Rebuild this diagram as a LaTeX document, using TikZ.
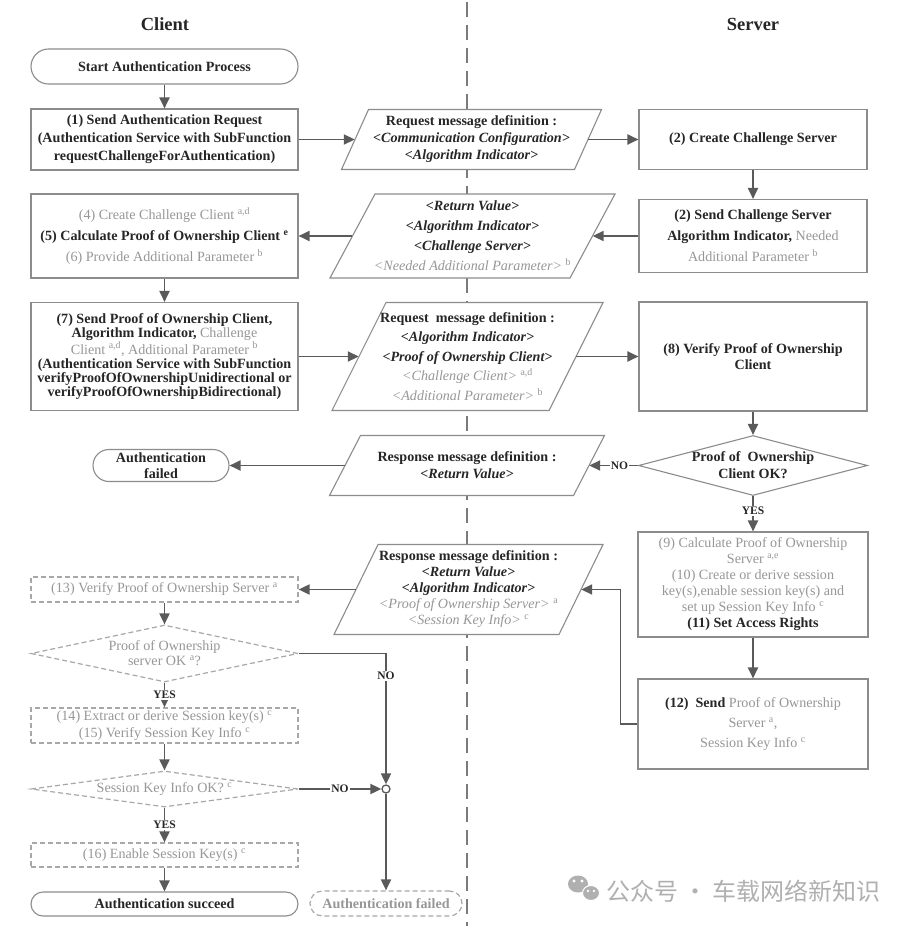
\documentclass[tikz,border=0pt]{standalone}
\usepackage{fontspec}
\setmainfont{Liberation Serif}
\newfontfamily\cjkfont{Noto Sans CJK SC}
\usetikzlibrary{arrows.meta,shapes.geometric}
\definecolor{txtk}{HTML}{262626}
\definecolor{txtg}{HTML}{979797}
\definecolor{edgec}{HTML}{8C8C8C}
\definecolor{dashc}{HTML}{A8A8A8}
\definecolor{arrc}{HTML}{5A5A5A}
\definecolor{midc}{HTML}{7A7A7A}
\definecolor{wmc}{HTML}{B0B0B0}
\newcommand\gt[1]{{\color{txtg}\mdseries #1}}
\newcommand\sps[1]{\textsuperscript{#1}}
\newcommand\fsz[1]{\fontsize{14.1}{#1}\selectfont\bfseries}
\newcommand\fsr[1]{\fontsize{14.1}{#1}\selectfont\mdseries}
% name, cx, cy, w, h, slant, text, baselineskip
\newcommand\mkpara[8]{%
  \filldraw[parashape] (#2-#4/2+#6/2, #3-#5/2) -- (#2+#4/2+#6/2, #3-#5/2)
     -- (#2+#4/2-#6/2, #3+#5/2) -- (#2-#4/2-#6/2, #3+#5/2) -- cycle;
  \node[msgtext, minimum width=#4pt, minimum height=#5pt, font=\fsz{#8}] (#1) at (#2,#3) {#7};
}
\tikzset{
  base/.style={align=center, text=txtk, inner sep=0pt},
  procbox/.style={base, rectangle, draw=edgec, line width=1.1pt, fill=white},
  optbox/.style={base, rectangle, draw=dashc, line width=1.2pt, dash pattern=on 5pt off 3pt, fill=white, text=txtg},
  msgtext/.style={base, rectangle},
  parashape/.style={draw=edgec, line width=1.1pt, fill=white},
  decis/.style={base, diamond, draw=edgec, line width=1.1pt, fill=white},
  optdecis/.style={decis, draw=dashc, line width=1.2pt, dash pattern=on 5pt off 3pt},
  arr/.style={draw=arrc, line width=1.9pt, -{Triangle[length=11pt,width=10pt]}},
  lbl/.style={font=\fontsize{11.5}{12}\selectfont\bfseries, fill=white, inner sep=1pt, text=txtk},
  midline/.style={draw=midc, line width=1.4pt, dash pattern=on 15pt off 8pt},
  ttl/.style={font=\fontsize{18.5}{20}\selectfont\bfseries, text=txtk, inner sep=0pt},
  joint/.style={circle, draw=arrc, line width=1.3pt, fill=white, minimum size=8pt, inner sep=0pt}
}
\begin{document}
\begin{tikzpicture}[x=1pt,y=-1pt]
\useasboundingbox (0,0) rectangle (909,928);
\fill[white] (0,0) rectangle (909,928);
\draw[midline] (467,2) -- (467,926);

\node[ttl] (tc) at (165,24) {Client};
\node[ttl] (ts) at (753,24) {Server};

% ---- client column
\node[procbox, minimum width=267pt, minimum height=35pt, rounded corners=17.5pt, font=\fsz{17}] (start) at (164.5,66.5) {Start Authentication Process};
\node[procbox, minimum width=267pt, minimum height=61pt, font=\fsz{18}] (b1) at (164.5,139.5)
  {(1) Send Authentication Request\\(Authentication Service with SubFunction\\requestChallengeForAuthentication)};
\node[procbox, minimum width=267pt, minimum height=84pt, font=\fsz{21}] (b456) at (164.5,236)
  {\gt{(4) Create Challenge Client \sps{a,d}}\\(5) Calculate Proof of Ownership Client \sps{e}\\\gt{(6) Provide Additional Parameter \sps{b}}};
\node[procbox, minimum width=267pt, minimum height=108pt, font=\fsz{14}] (b7) at (164.5,356.5)
  {(7) Send Proof of Ownership Client,\\Algorithm Indicator, \gt{Challenge}\\\gt{Client \sps{a,d}, Additional Parameter \sps{b}}\\(Authentication Service with SubFunction\\verifyProofOfOwnershipUnidirectional or\\verifyProofOfOwnershipBidirectional)};
\node[procbox, minimum width=136pt, minimum height=32pt, rounded corners=16pt, font=\fsz{16}] (fail1) at (161,465.5) {Authentication\\failed};
\node[optbox, minimum width=267pt, minimum height=25pt, font=\fsr{17}] (b13) at (164.5,589.5) {(13) Verify Proof of Ownership Server \sps{a}};
\node[optdecis, minimum width=267pt, minimum height=57pt,
  label={[name=d2t, base, text=txtg, font=\fsr{15}]center:{Proof of Ownership\\server OK \sps{a}?}}] (d2) at (164.5,653.5) {};
\node[optbox, minimum width=267pt, minimum height=35pt, font=\fsr{17}] (b1415) at (164.5,725.5)
  {(14) Extract or derive Session key(s) \sps{c}\\(15) Verify Session Key Info \sps{c}};
\node[optdecis, minimum width=267pt, minimum height=36pt,
  label={[name=d3t, base, text=txtg, font=\fsr{15}]center:{Session Key Info OK? \sps{c}}}] (d3) at (164.5,789) {};
\node[optbox, minimum width=267pt, minimum height=24pt, font=\fsr{17}] (b16) at (164.5,855) {(16) Enable Session Key(s) \sps{c}};
\node[procbox, minimum width=267pt, minimum height=24pt, rounded corners=12pt, font=\fsz{17}] (succ) at (164.5,904) {Authentication succeed};
\node[joint] (circ) at (386,789) {};
\node[optbox, minimum width=152pt, minimum height=25pt, rounded corners=12.5pt, font=\fsz{17}] (fail2) at (386,903.5) {Authentication failed};

% ---- server column
\node[procbox, minimum width=228pt, minimum height=60pt, font=\fsz{17}] (b2) at (753,139.5) {(2) Create Challenge Server};
\node[procbox, minimum width=228pt, minimum height=73pt, font=\fsz{21}] (b3) at (753,236)
  {(2) Send Challenge Server\\Algorithm Indicator, \gt{Needed}\\\gt{Additional Parameter \sps{b}}};
\node[procbox, minimum width=228pt, minimum height=109pt, font=\fsz{15.5}] (b8) at (753,356.5) {(8) Verify Proof of Ownership\\Client};
\node[decis, minimum width=229pt, minimum height=60pt,
  label={[name=d1t, base, font=\fsz{17}]center:{Proof of~ Ownership\\Client OK?}}] (d1) at (753,465.5) {};
\node[procbox, minimum width=230pt, minimum height=105pt, font=\fsz{16}] (b911) at (753,584.5)
  {\gt{(9) Calculate Proof of Ownership}\\\gt{Server \sps{a,e}}\\\gt{(10) Create or derive session}\\\gt{key(s),enable session key(s) and}\\\gt{set up Session Key Info \sps{c}}\\(11) Set Access Rights};
\node[procbox, minimum width=230pt, minimum height=90pt, font=\fsz{20}] (b12) at (753,724)
  {(12)~ Send \gt{Proof of Ownership}\\\gt{Server \sps{a},}\\\gt{Session Key Info \sps{c}}};

% ---- messages
\mkpara{p1}{471.5}{139.5}{233}{60}{27}{Request message definition :\\\textit{<Communication Configuration>}\\\textit{<Algorithm Indicator>}}{17}
\mkpara{p2}{472.5}{236}{240}{84}{45}{\textit{<Return Value>}\\\textit{<Algorithm Indicator>}\\\textit{<Challenge Server>}\\\gt{\textit{<Needed Additional Parameter>} \sps{b}}}{20}
\mkpara{p3}{467.5}{356.5}{217}{108}{54}{Request~ message definition :\\\textit{<Algorithm Indicator>}\\\textit{<Proof of Ownership Client>}\\\gt{\textit{<Challenge Client>} \sps{a,d}}\\\gt{\textit{<Additional Parameter>} \sps{b}}}{19.5}
\mkpara{p4}{467}{465.5}{244}{60}{31}{Response message definition :\\\textit{<Return Value>}}{17}
\mkpara{p5}{468.5}{589.5}{225}{90}{44}{Response message definition :\\\textit{<Return Value>}\\\textit{<Algorithm Indicator>}\\\gt{\textit{<Proof of Ownership Server>} \sps{a}}\\\gt{\textit{<Session Key Info>} \sps{c}}}{16}

% ---- connectors
\draw[arr] (start) -- (b1);
\draw[arr] (b1) -- (p1);
\draw[arr] (p1) -- (b2);
\draw[arr] (b2) -- (b3);
\draw[arr] (b3) -- (p2);
\draw[arr] (p2) -- (b456);
\draw[arr] (b456) -- (b7);
\draw[arr] (b7) -- (p3);
\draw[arr] (p3) -- (b8);
\draw[arr] (b8) -- (d1);
\draw[arr] (d1.west) -- (p4.east) node[lbl, pos=0.38] {NO};
\draw[arr] (p4) -- (fail1);
\draw[arr] (d1.south) -- (b911.north) node[lbl, pos=0.42] {YES};
\draw[arr] (b911) -- (b12);
\draw[arr] (b12.west) -- ++(-17,0) |- (p5.east);
\draw[arr] (p5) -- (b13);
\draw[arr] (b13) -- (d2);
\draw[arr] (d2.south) -- (b1415.north) node[lbl, pos=0.5] {YES};
\draw[arr] (d2.east) -| (circ.north) node[lbl, pos=0.585] {NO};
\draw[arr] (b1415) -- (d3);
\draw[arr] (d3.east) -- (circ.west) node[lbl, pos=0.5] {NO};
\draw[arr] (d3.south) -- (b16.north) node[lbl, pos=0.5] {YES};
\draw[arr] (b16) -- (succ);
\draw[arr] (circ) -- (fail2);

% ---- watermark
\fill[wmc] (578,884) ellipse [x radius=10pt, y radius=8.5pt];
\filldraw[fill=wmc, draw=white, line width=1pt] (591,893) ellipse [x radius=8.5pt, y radius=7.5pt];
\fill[white] (574,881) circle [radius=1.6pt] (582,881) circle [radius=1.6pt]
  (588,891) circle [radius=1.4pt] (594,891) circle [radius=1.4pt];
\node[anchor=west, text=wmc, font=\cjkfont\fontsize{24}{26}\selectfont, inner sep=0pt] (wm) at (606,891) {公众号 · 车载网络新知识};
\end{tikzpicture}
\end{document}
